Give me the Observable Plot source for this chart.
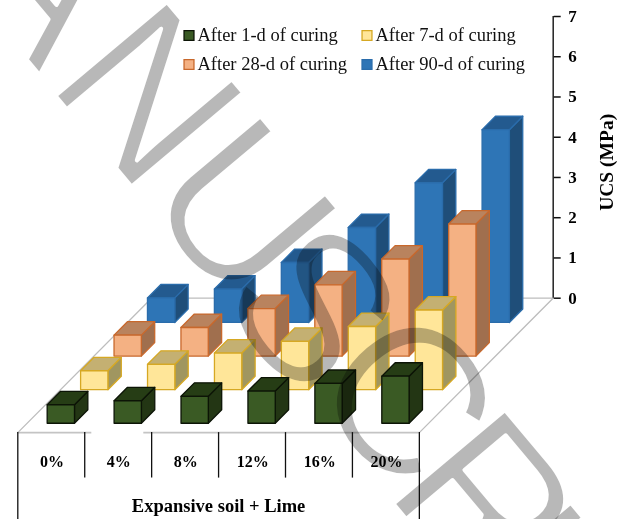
<!DOCTYPE html>
<html>
<head>
<meta charset="utf-8">
<script src="https://cdn.jsdelivr.net/npm/d3@7"></script>
<script src="https://cdn.jsdelivr.net/npm/@observablehq/plot@0.6"></script>
<style>html,body{margin:0;padding:0;background:#fff}svg{display:block}</style>
</head>
<body>
<div id="chart"></div>
<script>
const categories = ["0%", "4%", "8%", "12%", "16%", "20%"];
const day1  = [0.46, 0.56, 0.67, 0.80, 0.99, 1.17];
const day7  = [0.47, 0.63, 0.91, 1.20, 1.57, 1.98];
const day28 = [0.52, 0.71, 1.18, 1.77, 2.41, 3.28];
const day90 = [0.61, 0.83, 1.49, 2.36, 3.47, 4.79];
const seriesNames = ["After 1-d of curing", "After 7-d of curing", "After 28-d of curing", "After 90-d of curing"];
const seriesValues = [day1, day7, day28, day90];
const uTicks = [0, 1, 2, 3, 4, 5, 6, 7];
const fronts = ["#3a5a24", "#ffe699", "#f4b183", "#2e75b6"];
const tops   = ["#263d15", "#c4b072", "#b9835e", "#235a8f"];
const sides  = ["#233614", "#a09660", "#a06f4e", "#1f4e79"];
const edges  = ["#0c1406", "#d6a823", "#c8682c", "#2a6cab"];
const watermarkLetters = ["A", "N", "U", "S", "C", "R", "I"];
const watermarkCentres = [[46, -23], [145, 97], [239, 212], [310, 309], [403, 400], [483, 505], [517, 560]];

// oblique projection: category c, depth z (0 front .. 4 back), value v
const DX = 0.4995, DY = 0.835;
const proj = (c, z, v) => ({x: c + z * DX, y: v + (z - 4) * DY});
const BAR_C = 0.30, BAR_W = 0.408, BAR_Z = 0.278, BAR_D = 0.40;

const faces = [];
let id = 0;
function face(pts, fill, stroke) {
  id++;
  [...pts, pts[0]].forEach(p => faces.push({...p, id, fill, stroke}));
}
for (let s = 3; s >= 0; s--) {
  seriesValues[s].forEach((v, i) => {
    const c0 = i + BAR_C, c1 = c0 + BAR_W, z0 = s + BAR_Z, z1 = z0 + BAR_D;
    face([proj(c1, z0, 0), proj(c1, z1, 0), proj(c1, z1, v), proj(c1, z0, v)], sides[s], edges[s]);
    face([proj(c0, z0, v), proj(c1, z0, v), proj(c1, z1, v), proj(c0, z1, v)], tops[s], edges[s]);
    face([proj(c0, z0, 0), proj(c1, z0, 0), proj(c1, z0, v), proj(c0, z0, v)], fronts[s], edges[s]);
  });
}
const floorEdges = [proj(0, 0, 0), proj(0, 4, 0), proj(6, 4, 0), proj(6, 0, 0)];
const floorFrontY = proj(0, 0, 0).y;
const tableRowY = floorFrontY - 1.13, tableEndY = floorFrontY - 2.2;

const legendX = [183, 361], legendY = [35, 64];
const legendMarks = seriesNames.flatMap((name, i) => {
  const col = i % 2, row = i < 2 ? 0 : 1;
  const dx = legendX[col] - 17.3, dy = legendY[row] - 16;
  return [
    Plot.dot([name], {frameAnchor: "top-left", dx: dx + 5.5, dy, symbol: "square", r: 5.6,
      fill: fronts[i], stroke: edges[i], strokeWidth: 1.3}),
    Plot.text([name], {frameAnchor: "top-left", dx: dx + 14, dy, text: d => d, textAnchor: "start",
      lineAnchor: "middle", fontSize: 18.5, fill: "#111"})
  ];
});
const watermarkMarks = watermarkLetters.map((letter, i) =>
  Plot.text([letter], {frameAnchor: "top-left", dx: watermarkCentres[i][0] - 17.3, dy: watermarkCentres[i][1] - 16,
    rotate: 50, text: d => d, textAnchor: "middle", lineAnchor: "middle", fontSize: 212,
    fontFamily: "'Liberation Sans Narrow', 'Liberation Sans', sans-serif", fill: "#b8b8b8", stroke: "#fff", strokeWidth: 4,
    paintOrder: "fill", mixBlendMode: "multiply"}));

const chart = Plot.plot({
  width: 624, height: 519,
  marginLeft: 17.3, marginRight: 71.3, marginTop: 16, marginBottom: 221.3,
  x: {domain: [0, 8], axis: null},
  y: {domain: [0, 7], axis: null},
  style: {fontFamily: "'Liberation Serif', serif", background: "#fff"},
  marks: [
    // floor
    Plot.line(floorEdges, {x: "x", y: "y", stroke: "#bdbdbd", strokeWidth: 1.3}),
    Plot.ruleY([floorFrontY], {x1: 0, x2: 6, stroke: "#c4c4c4", strokeWidth: 1.6, strokeDasharray: "74 52 999"}),
    // value axis
    Plot.ruleX([8], {y1: 0, y2: 7, stroke: "#222", strokeWidth: 1.5}),
    Plot.axisY({anchor: "right", ticks: uTicks, tickFormat: d => d, tickSize: 7, tickPadding: 8,
      stroke: "#111", strokeWidth: 1.5, fontSize: 17, fontWeight: "bold", fill: "#000", label: null}),
    // bars
    Plot.line(faces, {x: "x", y: "y", z: "id", fill: "fill", stroke: "stroke", strokeWidth: 1.3,
      strokeLinejoin: "round", curve: "linear"}),
    // category table
    Plot.ruleX(d3.range(1, 6), {y1: floorFrontY, y2: tableRowY, stroke: "#111", strokeWidth: 1.3}),
    Plot.ruleX([0, 6], {y1: floorFrontY, y2: tableEndY, stroke: "#111", strokeWidth: 1.3}),
    Plot.text(categories, {x: (d, i) => i + 0.51, y: floorFrontY - 0.72, text: d => d,
      fontSize: 16, fontWeight: "bold", fill: "#000"}),
    Plot.text(["Expansive soil + Lime"], {x: 3, y: floorFrontY - 1.83, text: d => d,
      fontSize: 18.5, fontWeight: "bold", fill: "#000"}),
    Plot.text(["UCS (MPa)"], {frameAnchor: "right", textAnchor: "middle", dx: 54, dy: 5, rotate: -90, text: d => d,
      fontSize: 19.5, fontWeight: "bold", fill: "#000"}),
    ...legendMarks,
    ...watermarkMarks
  ]
});
document.getElementById("chart").appendChild(chart);
</script>
</body>
</html>
